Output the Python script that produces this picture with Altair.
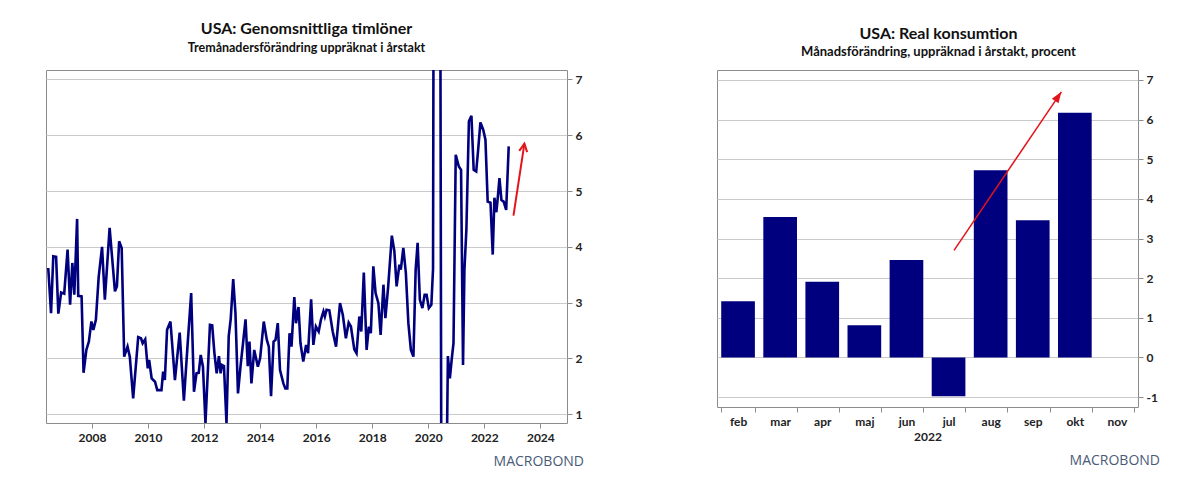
import altair as alt
import pandas as pd

FONT = "Lato"
NAVY = "#00007f"
RED = "#e3141b"
GRID = "#cacaca"
FRAME = "#8c8c8c"
LOGO = "#4b5a78"

# USA average hourly earnings, 3-month change annualised (%), line vertices
wage_year = [
    2006.44, 2006.54, 2006.62, 2006.72, 2006.80, 2006.90, 2007.01, 2007.13, 2007.22, 2007.30,
    2007.37, 2007.47, 2007.51, 2007.63, 2007.70, 2007.80, 2007.89, 2007.98, 2008.05, 2008.14,
    2008.24, 2008.36, 2008.46, 2008.63, 2008.82, 2008.89, 2008.97, 2009.06, 2009.15, 2009.27,
    2009.35, 2009.47, 2009.65, 2009.75, 2009.81, 2009.90, 2009.99, 2010.04, 2010.13, 2010.25,
    2010.33, 2010.48, 2010.54, 2010.60, 2010.68, 2010.80, 2010.96, 2011.13, 2011.28, 2011.40,
    2011.54, 2011.64, 2011.73, 2011.81, 2011.88, 2011.96, 2012.05, 2012.21, 2012.29, 2012.37,
    2012.45, 2012.53, 2012.59, 2012.64, 2012.71, 2012.80, 2012.88, 2012.95, 2013.04, 2013.12,
    2013.21, 2013.30, 2013.39, 2013.48, 2013.56, 2013.62, 2013.69, 2013.79, 2013.92, 2014.00,
    2014.13, 2014.24, 2014.31, 2014.39, 2014.48, 2014.55, 2014.63, 2014.71, 2014.83, 2014.90,
    2014.97, 2015.05, 2015.12, 2015.22, 2015.28, 2015.37, 2015.44, 2015.54, 2015.64, 2015.71,
    2015.82, 2015.90, 2015.99, 2016.09, 2016.17, 2016.26, 2016.31, 2016.37, 2016.47, 2016.59,
    2016.71, 2016.85, 2016.95, 2017.06, 2017.16, 2017.24, 2017.36, 2017.44, 2017.54, 2017.61,
    2017.70, 2017.80, 2017.88, 2017.95, 2018.04, 2018.12, 2018.22, 2018.30, 2018.40, 2018.47,
    2018.57, 2018.70, 2018.79, 2018.87, 2018.97, 2019.02, 2019.11, 2019.20, 2019.29, 2019.38,
    2019.47, 2019.55, 2019.62, 2019.70, 2019.79, 2019.87, 2019.94, 2020.02, 2020.11, 2020.17,
    2020.25, 2020.33, 2020.42, 2020.50, 2020.58, 2020.70, 2020.77, 2020.84, 2020.90, 2020.98,
    2021.09, 2021.17, 2021.24, 2021.29, 2021.36, 2021.45, 2021.54, 2021.62, 2021.71, 2021.78,
    2021.86, 2021.96, 2022.04, 2022.12, 2022.22, 2022.30, 2022.36, 2022.43, 2022.48, 2022.54,
    2022.61, 2022.69, 2022.78, 2022.87,
]
wage_value = [
    3.62, 2.81, 3.83, 3.82, 2.80, 3.18, 3.16, 3.95, 2.96, 3.71,
    3.14, 4.50, 3.12, 3.11, 1.74, 2.15, 2.30, 2.66, 2.51, 2.69,
    3.46, 4.00, 3.05, 4.34, 3.20, 3.29, 4.10, 3.98, 2.03, 2.21,
    2.03, 1.28, 2.38, 2.36, 2.27, 2.34, 1.82, 1.97, 1.64, 1.58,
    1.43, 1.43, 1.76, 1.61, 2.51, 2.66, 1.61, 2.46, 1.24, 2.15,
    3.17, 1.40, 1.73, 1.74, 2.06, 1.85, 0.84, 2.60, 2.59, 2.09,
    1.73, 2.04, 1.73, 1.88, 1.86, 0.84, 2.40, 2.70, 3.42, 2.81,
    1.37, 1.85, 2.27, 2.70, 1.86, 2.30, 1.55, 2.15, 1.85, 2.00,
    2.66, 2.33, 2.21, 1.32, 2.30, 2.33, 2.63, 1.79, 1.55, 1.46,
    1.46, 2.45, 2.21, 3.10, 2.63, 2.92, 2.27, 1.94, 2.24, 2.09,
    3.06, 2.24, 2.57, 2.48, 2.69, 2.84, 2.75, 2.87, 2.86, 2.48,
    2.21, 2.99, 2.78, 2.36, 2.64, 2.57, 2.16, 2.09, 2.75, 2.48,
    3.54, 2.15, 2.57, 2.45, 3.65, 3.17, 2.99, 2.42, 3.32, 2.72,
    3.29, 4.20, 3.92, 3.29, 3.68, 3.59, 3.98, 3.53, 2.63, 2.15,
    2.03, 3.59, 4.07, 3.05, 2.90, 3.14, 3.14, 2.90, 2.96, 3.60,
    24.3, 17.9, 10.8, -8.4, -3.5, 2.04, 1.64, 2.00, 2.27, 5.65,
    5.44, 5.38, 1.88, 3.59, 4.31, 6.25, 6.35, 5.38, 5.35, 5.74,
    6.23, 6.10, 5.92, 4.81, 4.79, 3.86, 4.88, 4.62, 4.88, 5.23,
    4.84, 4.81, 4.66, 5.80,
]
wage_ticks = [2008, 2010, 2012, 2014, 2016, 2018, 2020, 2022, 2024]
wage_arrow_year = [2023.04, 2023.43]
wage_arrow_value = [4.56, 5.85]

# USA real consumption, monthly change annualised (%), 2022
months = ["feb", "mar", "apr", "maj", "jun", "jul", "aug", "sep", "okt", "nov"]
consumption = [1.42, 3.54, 1.91, 0.81, 2.46, -0.98, 4.72, 3.46, 6.17]
cons_arrow_pos = [5.63, 8.18]
cons_arrow_value = [2.70, 6.70]

LW, LH = 521, 353
RW, RH = 421, 337

axis_common = dict(
    labelFont=FONT, labelFontSize=12, labelFontWeight="bold", labelColor="#222222",
    tickColor=FRAME, domain=False, gridColor=GRID, gridWidth=1,
)

# ---- left panel: hourly earnings line ----
wages = pd.DataFrame({"year": wage_year, "value": wage_value})
xw = alt.X("year:Q", scale=alt.Scale(domain=[2006.36, 2024.95], nice=False, zero=False),
           axis=alt.Axis(values=wage_ticks, format="d", grid=False, title=None,
                         tickSize=5, labelPadding=4, **axis_common))
yw = alt.Y("value:Q", scale=alt.Scale(domain=[0.84, 7.17], nice=False, zero=False),
           axis=alt.Axis(orient="right", values=[1, 2, 3, 4, 5, 6, 7], title=None,
                         labelExpr="'' + datum.value",
                         tickSize=5, labelPadding=3, **axis_common))

wage_line = alt.Chart(wages).mark_line(color=NAVY, strokeWidth=2.6, clip=True).encode(
    x=xw, y=yw)

w_arrow = pd.DataFrame({"year": wage_arrow_year, "value": wage_arrow_value})
w_arrow_line = alt.Chart(w_arrow).mark_line(color=RED, strokeWidth=2).encode(
    x="year:Q", y="value:Q")
w_arrow_head = alt.Chart(w_arrow.tail(1)).mark_point(
    shape="M-1,2L0,0L1,2", size=64, filled=False, stroke=RED, strokeWidth=2,
    angle=8.6, opacity=1).encode(x="year:Q", y="value:Q")

logo_df = pd.DataFrame({"t": ["MACROBOND"]})
w_logo = alt.Chart(logo_df).mark_text(
    font="Open Sans", fontSize=14, color=LOGO, align="right", baseline="middle").encode(
    text="t:N", x=alt.value(LW + 17), y=alt.value(LH + 39))

left = alt.layer(wage_line, w_arrow_line, w_arrow_head, w_logo).properties(
    width=LW, height=LH,
    title=alt.TitleParams(
        text="USA: Genomsnittliga timlöner",
        subtitle="Tremånadersförändring uppräknat i årstakt",
        font=FONT, fontSize=16, fontWeight="bold", color="#111111",
        subtitleFont=FONT, subtitleFontSize=12.5, subtitleFontWeight="bold",
        subtitleColor="#111111", subtitlePadding=5, anchor="middle", offset=16),
)

# ---- right panel: real consumption bars ----
cons = pd.DataFrame({"month": months[:len(consumption)], "value": consumption})
yscale = alt.Scale(domain=[-1.25, 7.25], nice=False)
bars = alt.Chart(cons).mark_bar(color=NAVY).encode(
    x=alt.X("month:N", sort=months,
            scale=alt.Scale(domain=months, paddingInner=0.2, paddingOuter=0.1),
            axis=alt.Axis(title="2022", titleFont=FONT, titleFontSize=12,
                          titleFontWeight="bold", titleColor="#222222", titlePadding=4,
                          labelAngle=0, tickBand="extent", tickSize=5, labelPadding=4,
                          **axis_common)),
    y=alt.Y("value:Q", scale=yscale,
            axis=alt.Axis(orient="right", values=list(range(-1, 8)), title=None,
                          labelExpr="'' + datum.value",
                          tickSize=5, labelPadding=3, **axis_common)),
    y2=alt.datum(0),
)

c_arrow = pd.DataFrame({"pos": cons_arrow_pos, "value": cons_arrow_value})
xa = alt.X("pos:Q", scale=alt.Scale(domain=[0, 10], nice=False, zero=False), axis=None)
c_arrow_line = alt.Chart(c_arrow).mark_line(color=RED, strokeWidth=1.5).encode(
    x=xa, y=alt.Y("value:Q", scale=yscale))
c_arrow_head = alt.Chart(c_arrow.tail(1)).mark_point(
    shape="M0,0L-0.8,2.2L0.8,2.2Z", size=100, filled=True, color=RED,
    angle=34, opacity=1).encode(x=xa, y=alt.Y("value:Q", scale=yscale))

c_logo = alt.Chart(logo_df).mark_text(
    font="Open Sans", fontSize=14, color=LOGO, align="right", baseline="middle").encode(
    text="t:N", x=alt.value(RW + 22), y=alt.value(RH + 54))

right = alt.layer(bars, c_arrow_line, c_arrow_head, c_logo).resolve_scale(
    x="independent").properties(
    width=RW, height=RH,
    title=alt.TitleParams(
        text="USA: Real konsumtion",
        subtitle="Månadsförändring, uppräknad i årstakt, procent",
        font=FONT, fontSize=16, fontWeight="bold", color="#111111",
        subtitleFont=FONT, subtitleFontSize=13, subtitleFontWeight="bold",
        subtitleColor="#111111", subtitlePadding=4, anchor="middle", frame="bounds",
        offset=11),
)

chart = alt.hconcat(left, right, spacing=131).properties(
    padding={"left": 45, "top": 20, "right": 0, "bottom": 0},
    background="white",
).configure_view(stroke=FRAME, strokeWidth=1)

chart.save("out.html", embed_options={"renderer": "svg", "actions": False})
